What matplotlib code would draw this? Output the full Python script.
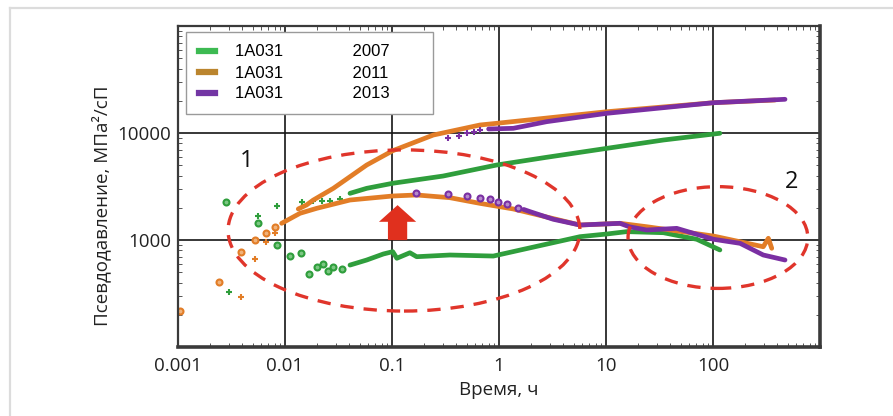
import matplotlib
matplotlib.use("Agg")
import matplotlib.pyplot as plt
from matplotlib.patches import Ellipse, Polygon
from matplotlib.lines import Line2D
from matplotlib.ticker import FixedLocator, LogLocator, NullFormatter

# ---------------- data ----------------
well = "1A031"
years = ["2007", "2011", "2013"]
series_colors = ["#2f9e3c", "#e27d27", "#7a2fa3"]
legend_colors = ["#3dba52", "#bb852e", "#7336a4"]

x_ticks = [0.001, 0.01, 0.1, 1, 10, 100]
x_tick_labels = ["0.001", "0.01", "0.1", "1", "10", "100"]
y_ticks = [1000, 10000]
y_tick_labels = ["1000", "10000"]

# 2007 – pseudo-pressure (sparse early crosses, then dense curve)
t07_p_pts = [0.0030, 0.0056, 0.0084, 0.0143, 0.0184, 0.0220, 0.0264, 0.0327]
p07_p_pts = [330, 1690, 2080, 2280, 2330, 2330, 2330, 2400]
t07_p = [0.0405, 0.058, 0.1016, 0.30, 0.95, 2.79, 10.2, 34.4, 116]
p07_p = [2730, 3040, 3390, 3960, 5020, 5930, 7190, 8600, 9940]
# 2007 – derivative
t07_d_pts = [0.0028, 0.0056, 0.0084, 0.0111, 0.0140, 0.0169, 0.0198, 0.0225, 0.0254, 0.0283, 0.0339]
p07_d_pts = [2250, 1430, 900, 710, 750, 480, 560, 600, 516, 562, 532]
t07_d = [0.0405, 0.058, 0.083, 0.1016, 0.111, 0.147, 0.170, 0.348, 0.885, 5.71, 10.2, 15.6, 34.4, 70.5, 116]
p07_d = [583, 650, 740, 778, 675, 760, 698, 724, 708, 1074, 1138, 1197, 1170, 1016, 807]

# 2011 – pseudo-pressure
t11_p_pts = [0.00388, 0.00525, 0.00664, 0.00807]
p11_p_pts = [291, 660, 952, 1154]
t11_p = [0.0133, 0.0159, 0.0184, 0.0283, 0.058, 0.1016, 0.243, 0.664, 0.953, 10.2, 101, 380]
p11_p = [1950, 2125, 2364, 3040, 5020, 6830, 9570, 11880, 12320, 15810, 19190, 20340]
# 2011 – derivative
t11_d_pts = [0.00104, 0.00243, 0.00386, 0.00525, 0.00664, 0.00807]
p11_d_pts = [218, 408, 778, 1000, 1156, 1331]
t11_d = [0.0093, 0.0138, 0.0198, 0.0405, 0.1016, 0.170, 0.348, 0.664, 1.36, 5.71, 13.5, 24, 101, 295, 329, 354]
p11_d = [1432, 1776, 1977, 2364, 2578, 2635, 2485, 2200, 1950, 1380, 1432, 1331, 1089, 865, 1038, 836]

# 2013 – pseudo-pressure
t13_p_pts = [0.336, 0.42, 0.499, 0.58, 0.664]
p13_p_pts = [8920, 9450, 9940, 10300, 10670]
t13_p = [0.80, 1.36, 2.79, 10.2, 101, 471]
p13_p = [10900, 11060, 12760, 15280, 19190, 20650]
# 2013 – derivative
t13_d_pts = [0.166, 0.336, 0.499, 0.664, 0.824, 0.984, 1.2, 1.5]
p13_d_pts = [2768, 2672, 2578, 2490, 2399, 2280, 2150, 2000]
t13_d = [1.7, 1.95, 3.22, 5.71, 13.5, 16.5, 24, 45.8, 101, 179, 295, 471]
p13_d = [1930, 1840, 1561, 1380, 1432, 1330, 1240, 1285, 1016, 931, 724, 650]

# ---------------- figure ----------------
plt.rcParams['font.family'] = ['Open Sans', 'DejaVu Sans']
fig = plt.figure(figsize=(8.93, 4.16), dpi=100)
fig.patch.set_facecolor("white")
# light page frame
fig.add_artist(Line2D([10/893, 1.0], [1-8/416, 1-8/416], color="#dcdcdc", lw=1.6, transform=fig.transFigure))
fig.add_artist(Line2D([10/893, 10/893], [0, 1-8/416], color="#dcdcdc", lw=1.6, transform=fig.transFigure))

ax = fig.add_axes([178/893, 1-347/416, 642/893, 321/416])
ax.set_xscale("log")
ax.set_yscale("log")
ax.set_xlim(0.001, 1000)
ax.set_ylim(100, 100000)

c07, c11, c13 = series_colors
lw_curve = 3.4
ms_o, ms_p = 4.3, 4.5

# 2007
ax.plot(t07_p_pts, p07_p_pts, ls="none", marker="+", ms=ms_p, mew=1.5, color=c07, zorder=3)
ax.plot(t07_p, p07_p, color=c07, lw=lw_curve, solid_capstyle="round", zorder=3)
ax.plot(t07_d_pts, p07_d_pts, ls="none", marker="o", ms=ms_o, mew=1.5, mfc="#7cc783", mec=c07, zorder=3)
ax.plot(t07_d, p07_d, color=c07, lw=lw_curve, solid_capstyle="round", zorder=3)
# 2011
ax.plot(t11_p_pts, p11_p_pts, ls="none", marker="+", ms=ms_p, mew=1.5, color=c11, zorder=4)
ax.plot(t11_p, p11_p, color=c11, lw=lw_curve, solid_capstyle="round", zorder=4)
ax.plot(t11_d_pts, p11_d_pts, ls="none", marker="o", ms=ms_o, mew=1.5, mfc="#f0b27a", mec=c11, zorder=4)
ax.plot(t11_d, p11_d, color=c11, lw=lw_curve, solid_capstyle="round", zorder=4)
# 2013
ax.plot(t13_p_pts, p13_p_pts, ls="none", marker="+", ms=ms_p, mew=1.5, color=c13, zorder=5)
ax.plot(t13_p, p13_p, color=c13, lw=lw_curve, solid_capstyle="round", zorder=5)
ax.plot(t13_d_pts, p13_d_pts, ls="none", marker="o", ms=ms_o, mew=1.5, mfc="#b58acb", mec=c13, zorder=5)
ax.plot(t13_d, p13_d, color=c13, lw=lw_curve, solid_capstyle="round", zorder=5)

# ticks & grid
ax.xaxis.set_major_locator(FixedLocator(x_ticks))
ax.set_xticklabels(x_tick_labels)
ax.yaxis.set_major_locator(FixedLocator(y_ticks))
ax.set_yticklabels(y_tick_labels)
ax.xaxis.set_minor_locator(LogLocator(base=10, subs=range(2, 10), numticks=20))
ax.yaxis.set_minor_locator(LogLocator(base=10, subs=range(2, 10), numticks=20))
ax.xaxis.set_minor_formatter(NullFormatter())
ax.yaxis.set_minor_formatter(NullFormatter())
ax.tick_params(which="major", length=0, labelsize=13.5, colors="#222222", pad=7)
ax.tick_params(axis="y", which="major", pad=5)
ax.tick_params(which="minor", direction="in", length=3, width=0.7, color="#555555",
               top=True, right=True, bottom=True, left=True)
ax.grid(True, which="major", color="#151515", lw=1.2, zorder=1)
ax.set_axisbelow(True)
for side, w in [("left", 1.6), ("top", 1.6), ("bottom", 2.6), ("right", 2.6)]:
    ax.spines[side].set_linewidth(w)
    ax.spines[side].set_color("#3a3a3a")
    ax.spines[side].set_zorder(6)

ax.set_xlabel("Время, ч", fontsize=13.5, color="#222222")
ax.set_ylabel("Псевдодавление, МПа²/сП", fontsize=13.5, color="#222222")
ax.xaxis.set_label_coords(0.5, -0.106)
ax.yaxis.set_label_coords(-0.104, 0.44)

# annotations: dashed ellipses, numbers, arrow
red = "#e0352b"
for (cx, cy, w, h) in [(0.352, 0.363, 0.548, 0.502), (0.841, 0.341, 0.280, 0.317)]:
    ax.add_patch(Ellipse((cx, cy), w, h, transform=ax.transAxes, fill=False,
                         edgecolor=red, lw=2.4, linestyle=(0, (4, 3)), zorder=7))
ax.text(0.107, 0.579, "1", transform=ax.transAxes, fontsize=17, ha="center", va="center", color="#111111")
ax.text(0.956, 0.515, "2", transform=ax.transAxes, fontsize=17, ha="center", va="center", color="#111111")
arrow_xy = [(0.327, 0.333), (0.357, 0.333), (0.357, 0.390), (0.371, 0.390),
            (0.342, 0.442), (0.313, 0.390), (0.327, 0.390)]
ax.add_patch(Polygon(arrow_xy, closed=True, transform=ax.transAxes, facecolor="#e0301e",
                     edgecolor="none", zorder=8))

# legend
handles = [Line2D([0], [0], color=c, lw=4.5) for c in legend_colors]
labels = [f"{well}{' ' * 15}{y}" for y in years]
leg = ax.legend(handles, labels, loc="upper left",
                bbox_to_anchor=((186-178)/642, (347-111)/321, (433-186)/642, (111-32)/321),
                bbox_transform=ax.transAxes, mode="expand", borderaxespad=0,
                prop={"family": "Liberation Sans", "size": 12}, frameon=True, fancybox=False,
                edgecolor="#9a9a9a", framealpha=1, handlelength=1.0, handletextpad=1.2,
                labelspacing=0.36, borderpad=0.75)
leg.get_frame().set_linewidth(1.0)
leg.set_zorder(9)

fig.savefig("out.png", dpi=100, facecolor="white")
